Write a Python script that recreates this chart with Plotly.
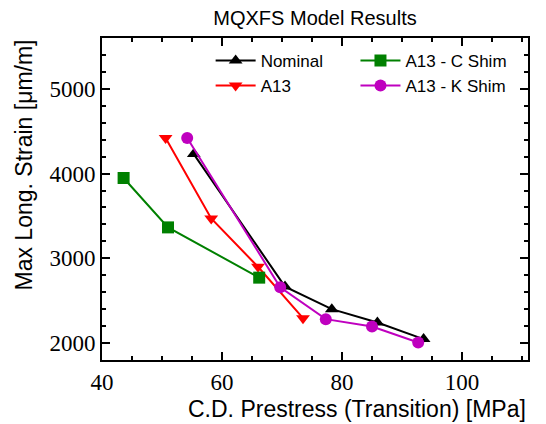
import plotly.graph_objects as go

# C.D. prestress at transition [MPa] and peak longitudinal strain [µm/m]
nominal_x = [55.3, 70.5, 78.3, 85.9, 93.6]
nominal_y = [4230, 2666, 2400, 2242, 2047]

a13_x = [50.6, 58.2, 66.0, 73.5]
a13_y = [4420, 3470, 2900, 2294]

cshim_x = [43.6, 51.0, 66.2]
cshim_y = [3948, 3365, 2772]

kshim_x = [54.2, 69.7, 77.3, 85.0, 92.7]
kshim_y = [4420, 2659, 2282, 2195, 2007]

x_ticks = [40, 60, 80, 100]
y_ticks = [2000, 3000, 4000, 5000]
x_minor = [45, 50, 55, 65, 70, 75, 85, 90, 95, 105, 110]
y_minor = [2200, 2400, 2600, 2800, 3200, 3400, 3600, 3800,
           4200, 4400, 4600, 4800, 5200, 5400]

X_RANGE = [40, 111]
Y_RANGE = [1800, 5600]

SANS = "Liberation Sans, DejaVu Sans, sans-serif"
SERIF = "Liberation Serif, DejaVu Serif, serif"

series = [
    ("Nominal", nominal_x, nominal_y, "black", "triangle-up", "legend"),
    ("A13", a13_x, a13_y, "red", "triangle-down", "legend"),
    ("A13 - C Shim", cshim_x, cshim_y, "green", "square", "legend2"),
    ("A13 - K Shim", kshim_x, kshim_y, "#bf00bf", "circle", "legend2"),
]

fig = go.Figure()
for name, xs, ys, color, symbol, leg in series:
    fig.add_trace(go.Scatter(
        x=xs, y=ys, name=name, mode="lines+markers",
        line=dict(color=color, width=2),
        marker=dict(symbol=symbol, size=12, color=color,
                    line=dict(color=color, width=0)),
        legend=leg,
    ))

# empty trace so the overlay subplot (minor-tick axes) gets rendered
fig.add_trace(go.Scatter(x=[None], y=[None], xaxis="x2", yaxis="y2",
                         mode="markers", showlegend=False, hoverinfo="skip"))

frame = dict(
    showline=True, linecolor="black", linewidth=2, mirror="ticks",
    ticks="inside", tickcolor="black",
    showgrid=False, zeroline=False,
)

# main axes: major ticks with labels
fig.update_layout(
    xaxis=dict(range=X_RANGE, tickvals=x_ticks, ticklen=8, tickwidth=2,
               tickfont=dict(family=SERIF, size=23, color="black"), **frame),
    yaxis=dict(range=Y_RANGE, tickvals=y_ticks, ticklen=8, tickwidth=2,
               tickfont=dict(family=SERIF, size=23, color="black"), **frame),
    # overlay axes carrying the minor ticks only
    xaxis2=dict(range=X_RANGE, tickvals=x_minor, ticklen=4, tickwidth=1.5,
                showticklabels=False, overlaying="x", anchor="y2", **frame),
    yaxis2=dict(range=Y_RANGE, tickvals=y_minor, ticklen=4, tickwidth=1.5,
                showticklabels=False, overlaying="y", anchor="x2", **frame),
)

legend_style = dict(
    bgcolor="rgba(0,0,0,0)", borderwidth=0,
    font=dict(family=SANS, size=17, color="black"),
    xanchor="left", yanchor="top", tracegroupgap=0,
    itemwidth=40,
)

fig.update_layout(
    width=546, height=424,
    margin=dict(l=102, r=18, t=38, b=64),
    plot_bgcolor="white", paper_bgcolor="white",
    title=dict(text="MQXFS Model Results", x=0.5, xref="paper",
               y=0.958, yref="container", yanchor="middle",
               font=dict(family=SANS, size=20, color="black")),
    legend=dict(x=0.255, y=0.985, **legend_style),
    legend2=dict(x=0.595, y=0.985, **legend_style),
    annotations=[
        dict(text="C.D. Prestress (Transition) [MPa]", xref="paper", yref="paper",
             x=1, y=0, xanchor="right", yanchor="top", yshift=-34,
             showarrow=False, font=dict(family=SANS, size=23, color="black")),
        dict(text="Max Long. Strain [μm/m]", xref="paper", yref="paper",
             x=0, y=1, xanchor="right", yanchor="top", xshift=-64,
             textangle=-90, showarrow=False,
             font=dict(family=SANS, size=23, color="black")),
    ],
)

fig.write_html("out.html")
